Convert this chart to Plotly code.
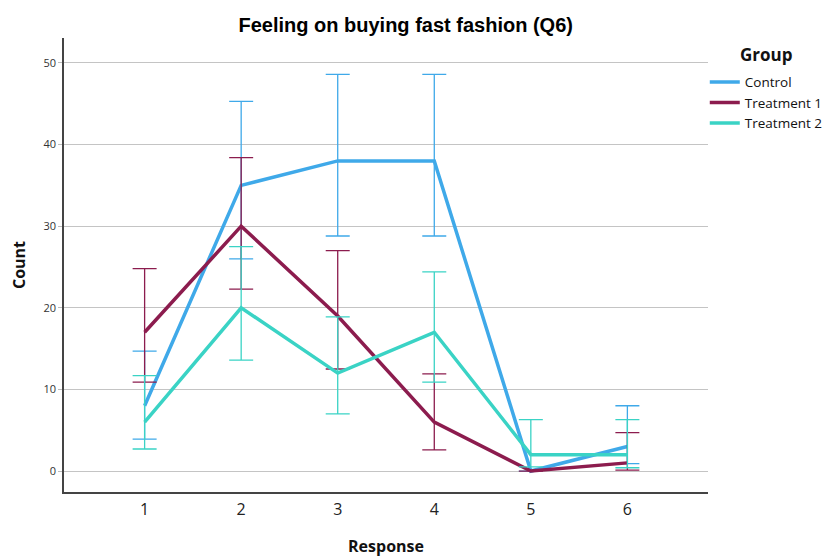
import plotly.graph_objects as go

# Response categories on the x axis
responses = [1, 2, 3, 4, 5, 6]

# Counts per group with their interval bounds
control = [8, 35, 38, 38, 0, 3]
control_hi = [14.7, 45.3, 48.6, 48.6, 0, 8.0]
control_lo = [3.9, 26.0, 28.8, 28.8, 0, 0.9]

treat1 = [17, 30, 19, 6, 0, 1]
treat1_hi = [24.8, 38.4, 27.0, 11.9, 0, 4.7]
treat1_lo = [10.9, 22.3, 12.5, 2.6, 0, 0.1]

treat2 = [6, 20, 12, 17, 2, 2]
treat2_hi = [11.7, 27.5, 18.9, 24.4, 6.3, 6.3]
treat2_lo = [2.7, 13.6, 7.0, 10.9, 0.5, 0.4]

groups = [
    ("Control", control, control_hi, control_lo, "#3fa9e9"),
    ("Treatment 1", treat1, treat1_hi, treat1_lo, "#8c1c4e"),
    ("Treatment 2", treat2, treat2_hi, treat2_lo, "#3ad3c5"),
]

fig = go.Figure()
for name, vals, hi, lo, color in groups:
    plus = [h - v if h != v else None for h, v in zip(hi, vals)]
    minus = [v - l if h != v else None for h, l, v in zip(hi, lo, vals)]
    fig.add_trace(go.Scatter(
        x=responses, y=vals, name=name, mode="lines",
        line=dict(color=color, width=3.5),
        error_y=dict(type="data", symmetric=False, array=plus, arrayminus=minus,
                     color=color, thickness=1.3, width=12),
    ))

fig.update_layout(
    width=828, height=557,
    margin=dict(l=64, r=120, t=38, b=65, autoexpand=False),
    paper_bgcolor="white", plot_bgcolor="white",
    title=dict(text="<b>Feeling on buying fast fashion (Q6)</b>",
               font=dict(family="Liberation Sans, Arial", size=20, color="black"),
               x=0.49, xanchor="center", y=0.955, yanchor="middle"),
    font=dict(family="Open Sans, Lato", color="#222"),
    legend=dict(
        x=0.995, xanchor="left", y=0.937, yanchor="top",
        font=dict(size=13.5, color="#111"),
        bgcolor="rgba(0,0,0,0)", tracegroupgap=0, itemwidth=30,
    ),
    showlegend=True,
    annotations=[dict(
        text="<b>Group</b>", xref="paper", yref="paper",
        x=1.046, y=0.963, xanchor="left", yanchor="middle", showarrow=False,
        font=dict(family="Open Sans, Lato", size=17, color="#111"),
    )],
)

fig.update_xaxes(
    range=[0.165, 6.835], tickvals=responses, ticktext=[str(r) for r in responses],
    tickfont=dict(size=16, color="#222"),
    showgrid=False, zeroline=False,
    showline=True, linecolor="#444", linewidth=1.5,
    ticks="outside", ticklen=2, tickcolor="rgba(0,0,0,0)",
    title=dict(text="<b>Response</b>", font=dict(size=16, color="#111"), standoff=22),
)
fig.update_yaxes(
    range=[-2.57, 53.06], tickvals=[0, 10, 20, 30, 40, 50],
    tickfont=dict(size=11, color="#333"),
    showgrid=True, gridcolor="#c4c4c4", gridwidth=1,
    zeroline=False,
    showline=True, linecolor="#444", linewidth=1.5,
    ticks="outside", ticklen=4, tickcolor="#bbb",
    title=dict(text="<b>Count</b>", font=dict(size=16, color="#111"), standoff=14),
)

fig.write_html("out.html")
